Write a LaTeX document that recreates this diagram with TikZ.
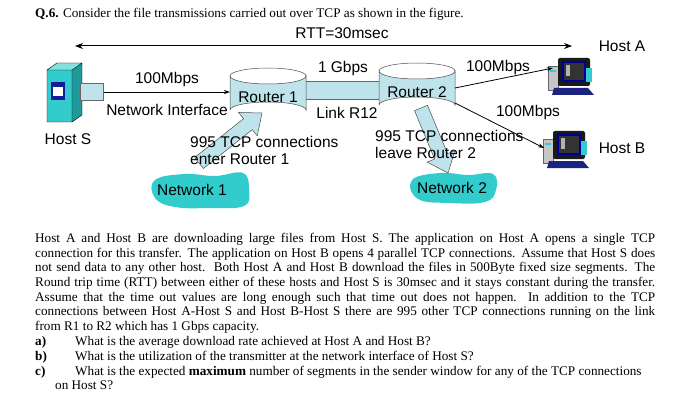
\documentclass[tikz,border=0pt]{standalone}
\usepackage{fontspec}
\setmainfont{Liberation Serif}
\newfontfamily\arial{Liberation Sans}
\usetikzlibrary{arrows.meta,calc}
\definecolor{rtr}{HTML}{BFE3EA}
\definecolor{teal}{HTML}{33CCCC}
\definecolor{tealdk}{HTML}{1E9A9A}
\definecolor{navy}{HTML}{1A237E}
\newcommand{\fatarrow}[2]{%
  \coordinate (fT) at #1; \coordinate (fP) at #2;
  \coordinate (fB) at ($(fP)!18pt!(fT)$);
  \draw[fat] ($(fT)!7pt!90:(fP)$) -- ($(fB)!7pt!90:(fP)$) -- ($(fB)!15pt!90:(fP)$) -- (fP) -- ($(fB)!15pt!-90:(fP)$) -- ($(fB)!7pt!-90:(fP)$) -- ($(fT)!7pt!-90:(fP)$) -- cycle;}
\begin{document}
\begin{tikzpicture}[x=1pt,y=-1pt,
  lbl/.style={font=\arial\fontsize{15.5}{17.5}\selectfont,inner sep=0pt},
  txt/.style={font=\fontsize{13.2}{14.7}\selectfont,inner sep=0pt,anchor=north west},
  link/.style={draw=black,line width=0.8pt,-{Stealth[length=6pt,width=4pt]}},
  fat/.style={fill=rtr,draw=black!70,line width=0.5pt}]
\useasboundingbox (0,0) rectangle (700,406);
\node[txt,anchor=west] (title) at (35,14) {\textbf{Q.6.} Consider the file transmissions carried out over TCP as shown in the figure.};
\node[lbl] (rtt) at (342,33) {RTT=30msec};
\coordinate (rl) at (75,46); \coordinate (rr) at (572,46);
\draw[line width=1pt,{Stealth[length=8pt,width=6pt]}-{Stealth[length=8pt,width=6pt]}] (rl) -- (rr);
% Host S
\fill[teal] (47,70) rectangle (72,122);
\fill[tealdk] (72,70) -- (82,63) -- (82,115) -- (72,122) -- cycle;
\fill[teal!60!white] (47,70) -- (57,63) -- (82,63) -- (72,70) -- cycle;
\draw[black,line width=0.4pt] (47,70) -- (57,63) -- (82,63) -- (82,115) -- (72,122) -- (47,122) -- cycle (47,70)--(72,70)--(82,63) (72,70)--(72,122);
\fill[navy!80!blue] (51,82) rectangle (65,100);
\fill[white] (53,87) rectangle (63,96);
\node[draw=black!60,fill=rtr,minimum width=23pt,minimum height=17pt,inner sep=0pt] (ni) at (92,92) {};
\node[lbl] (hs) at (68,139) {Host S};
% Link
\node[fill=rtr,draw=none,minimum width=80pt,minimum height=18pt,inner sep=0pt] (l12) at (342,90) {};
\draw[black!60] (303,81) -- (381,81) (303,99) -- (381,99);
% clouds
\fill[teal] plot[smooth cycle,tension=0.7] coordinates{(155,180)(185,174)(215,176)(243,173)(249,190)(244,206)(210,208)(175,207)(155,198)};
\fill[teal] plot[smooth cycle,tension=0.7] coordinates{(412,180)(440,173)(468,175)(493,174)(496,190)(485,202)(450,203)(418,199)};
% fat arrows
\fatarrow{(199,163)}{(262,113)}
\fatarrow{(421,108)}{(448,173)}
% Routers
\foreach \n/\cx/\ty/\lab in {r1/268/76/Router 1,r2/417/71/Router 2}{
  \fill[rtr,draw=black!70,line width=0.5pt] (\cx-38,\ty) -- (\cx-38,\ty+34) arc[start angle=180,end angle=360,x radius=38,y radius=8] -- (\cx+38,\ty) arc[start angle=0,end angle=180,x radius=38,y radius=8]--cycle;
  \draw[black!70,line width=0.5pt] (\cx-38,\ty) arc[start angle=180,end angle=360,x radius=38,y radius=8];
  \node[lbl] (\n) at (\cx,\ty+21) {\lab};
}
\draw[link] (ni.east) -- (230,92);
\node[lbl] at (167,79) {100Mbps};
\node[lbl] at (167,110) {Network Interface};
\node[lbl] at (343,68) {1 Gbps};
\node[lbl] at (347,113) {Link R12};
% computers
\foreach \n/\px/\py in {ha/548/58,hb/543/131}{
  \fill[gray!45,draw=black!60] (\px,\py+8) rectangle (\px+10,\py+32);
  \fill[teal] (\px+2,\py+12) rectangle (\px+8,\py+14);
  \fill[black!90,rounded corners=2pt] (\px+10,\py) rectangle (\px+42,\py+28);
  \fill[blue!60!black] (\px+14,\py+3) rectangle (\px+38,\py+24);
  \fill[black!80] (\px+16,\py+5) rectangle (\px+36,\py+22);
  \fill[gray!60] (\px+18,\py+7) rectangle (\px+22,\py+18);
  \fill[navy] (\px+6,\py+30) -- (\px+40,\py+30) -- (\px+46,\py+37) -- (\px+4,\py+37) -- cycle;
  \fill[teal] (\px+38,\py+10) rectangle (\px+44,\py+24);
  \coordinate (\n) at (\px,\py+14);
}
\draw[link] (455,88) -- (553,68);
\draw[link] (455,103) -- (544,148);
\node[lbl] at (498,67) {100Mbps};
\node[lbl] at (528,112) {100Mbps};
\node[lbl] at (622,46) {Host A};
\node[lbl] at (622,148) {Host B};
\node[lbl,align=left,anchor=north west] (t1) at (190,136) {995 TCP connections\\enter Router 1};
\node[lbl,align=left,anchor=north west] (t2) at (375,130) {995 TCP connections\\leave Router 2};
\node[lbl] (n1) at (192,190) {Network 1};
\node[lbl] (n2) at (452,188) {Network 2};
% text
\node[txt,text width=620pt,align=justify] (p) at (35,233) {Host A and Host B are downloading large files from Host S. The application on Host A opens a single TCP\linebreak connection for this transfer. The application on Host B opens 4 parallel TCP connections. Assume that Host S does\linebreak not send data to any other host.\ \ Both Host A and Host B download the files in 500Byte fixed size segments. The\linebreak Round trip time (RTT) between either of these hosts and Host S is 30msec and it stays constant during the transfer.\linebreak Assume that the time out values are long enough such that time out does not happen. In addition to the TCP\linebreak connections between Host A-Host S and Host B-Host S there are 995 other TCP connections running on the link\linebreak from R1 to R2 which has 1 Gbps capacity.};
\node[txt] at (35,336) {\textbf{a)}};
\node[txt] at (75,336) {What is the average download rate achieved at Host A and Host B?};
\node[txt] at (35,351) {\textbf{b)}};
\node[txt] at (75,351) {What is the utilization of the transmitter at the network interface of Host S?};
\node[txt] at (35,366) {\textbf{c)}};
\node[txt] at (75,366) {What is the expected \textbf{maximum} number of segments in the sender window for any of the TCP connections};
\node[txt] at (55,381) {on Host S?};
\end{tikzpicture}
\end{document}
